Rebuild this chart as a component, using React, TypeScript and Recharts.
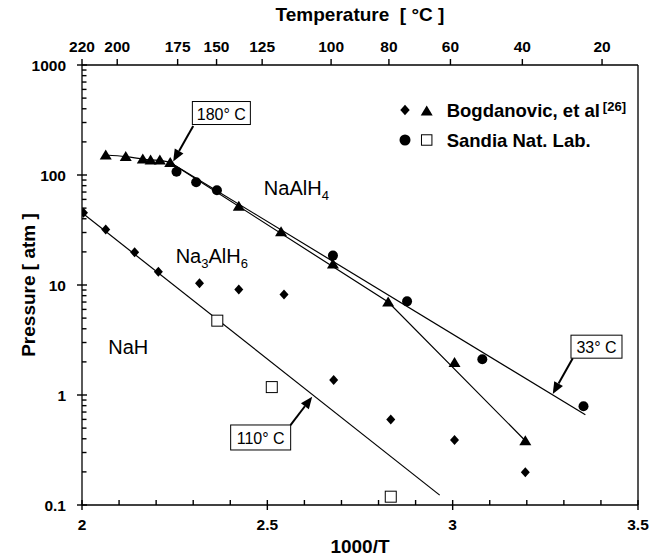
import React from "react";
import {
  ComposedChart,
  Line,
  Scatter,
  XAxis,
  YAxis,
  ReferenceLine,
  ReferenceDot,
  Legend,
  Label,
} from "recharts";

// ---------------------------------------------------------------------------
// Data (x = 1000/T, y = pressure in atm)
// ---------------------------------------------------------------------------

// Bogdanovic et al. – NaAlH4 (triangles)
const triX = [2.064, 2.118, 2.164, 2.185, 2.21, 2.238, 2.423, 2.537, 2.677, 2.826, 3.005, 3.196];
const triP = [152, 147, 140, 137, 137, 130, 52, 30.5, 15.5, 7.0, 1.97, 0.384];

// Bogdanovic et al. – Na3AlH6 (diamonds)
const diaX = [2.004, 2.064, 2.142, 2.206, 2.317, 2.423, 2.545, 2.679, 2.833, 3.005, 3.196];
const diaP = [45.4, 32, 19.8, 13.2, 10.4, 9.1, 8.2, 1.37, 0.6, 0.39, 0.198];

// Sandia – NaAlH4 (circles)
const cirX = [2.255, 2.308, 2.364, 2.677, 2.877, 3.08, 3.353];
const cirP = [107, 86, 72.6, 18.5, 7.1, 2.11, 0.79];

// Sandia – Na3AlH6 (squares)
const sqX = [2.365, 2.512, 2.833];
const sqP = [4.74, 1.18, 0.119];

// fit lines
const plateauX = [2.064, 2.118, 2.164, 2.185, 2.21, 2.238];
const plateauP = [152, 147, 140, 137, 136, 130];
const bogFitX = [2.238, 2.826, 3.196];
const bogFitP = [130, 7.0, 0.384];
const sandiaFitX = [2.238, 3.358];
const sandiaFitP = [130, 0.66];
const na3FitX = [2.0, 2.965];
const na3FitP = [45.4, 0.123];

// axes
const X_TICKS = [2, 2.1, 2.2, 2.3, 2.4, 2.5, 2.6, 2.7, 2.8, 2.9, 3, 3.1, 3.2, 3.3, 3.4, 3.5];
const TOP_TICK_POS = [2.0, 2.095, 2.258, 2.363, 2.486, 2.672, 2.828, 2.994, 3.188, 3.403];
const TOP_TICK_LABELS = ["220", "200", "175", "150", "125", "100", "80", "60", "40", "20"];
const Y_MAJOR = [0.1, 1, 10, 100, 1000];
const Y_MINOR_STEPS = [2, 3, 4, 5, 6, 7, 8, 9];

const X_MIN = 2;
const X_MAX = 3.5;
const Y_MIN = 0.1;
const Y_MAX = 1000;

const toPts = (xs: number[], ys: number[]) => xs.map((x, i) => ({ x, y: ys[i] }));

const Y_TICKS = [
  ...Y_MAJOR,
  ...Y_MAJOR.slice(0, -1).flatMap((d) => Y_MINOR_STEPS.map((k) => +(d * k).toPrecision(3))),
].sort((a, b) => a - b);

const isMajorX = (v: number) => Math.abs(v * 2 - Math.round(v * 2)) < 1e-6;
const isMajorY = (v: number) => Y_MAJOR.some((m) => Math.abs(m - v) < 1e-9);

const FONT = '"Liberation Sans", Arial, Helvetica, sans-serif';

// ---------------------------------------------------------------------------
// Markers
// ---------------------------------------------------------------------------

const diamond = (cx: number, cy: number, s = 1) => (
  <path
    d={`M${cx},${cy - 5 * s}L${cx + 4.5 * s},${cy}L${cx},${cy + 5 * s}L${cx - 4.5 * s},${cy}Z`}
    fill="#000"
  />
);
const triangle = (cx: number, cy: number, s = 1) => (
  <path
    d={`M${cx},${cy - 5.5 * s}L${cx + 6 * s},${cy + 4.5 * s}L${cx - 6 * s},${cy + 4.5 * s}Z`}
    fill="#000"
  />
);
const circle = (cx: number, cy: number, s = 1) => <circle cx={cx} cy={cy} r={5 * s} fill="#000" />;
const square = (cx: number, cy: number, s = 1) => (
  <rect x={cx - 5.5 * s} y={cy - 5.5 * s} width={11 * s} height={11 * s} fill="#fff" stroke="#000" strokeWidth={1} />
);

// tick marks: small filled bars sitting on the axis lines
const tickMark = (x0: number, y0: number, w: number, h: number) => (p: any) => (
  <rect x={p.cx + x0} y={p.cy + y0} width={w} height={h} fill="#000" />
);
const bottomMajor = tickMark(-0.7, -5, 1.4, 10);
const bottomMinor = tickMark(-0.7, -5, 1.4, 5);
const topMark = tickMark(-0.7, -6, 1.4, 6);
const leftMajor = tickMark(-5, -0.7, 10, 1.4);
const leftMinor = tickMark(0, -0.7, 4.5, 1.4);

// ---------------------------------------------------------------------------
// Tick labels
// ---------------------------------------------------------------------------

const tickText = { fontFamily: FONT, fontWeight: 700, fontSize: 15.5, fill: "#000" };

function BottomTick(props: any) {
  const { x, y, payload } = props;
  const v = Number(payload?.value);
  if (!isMajorX(v)) return <g />;
  return (
    <text x={x} y={y + 19} textAnchor="middle" dominantBaseline="central" {...tickText}>
      {String(v)}
    </text>
  );
}

function TopTick(props: any) {
  const { x, y, payload } = props;
  const v = Number(payload?.value);
  const i = TOP_TICK_POS.findIndex((p) => Math.abs(p - v) < 1e-6);
  return (
    <text x={x} y={y - 19} textAnchor="middle" dominantBaseline="central" {...tickText}>
      {i >= 0 ? TOP_TICK_LABELS[i] : ""}
    </text>
  );
}

function LeftTick(props: any) {
  const { x, y, payload } = props;
  const v = Number(payload?.value);
  if (!isMajorY(v)) return <g />;
  return (
    <text x={x - 16} y={y} textAnchor="end" dominantBaseline="central" {...tickText}>
      {String(v)}
    </text>
  );
}

const titleText = { fontFamily: FONT, fontWeight: 700, fontSize: 19, fill: "#000" };

function XTitle(props: any) {
  const vb = props.viewBox ?? { x: 82, y: 505, width: 556, height: 50 };
  return (
    <text x={vb.x + vb.width / 2} y={vb.y + 41} textAnchor="middle" dominantBaseline="central" {...titleText}>
      1000/T
    </text>
  );
}

function TopTitle(props: any) {
  const vb = props.viewBox ?? { x: 82, y: 0, width: 556, height: 65 };
  return (
    <text x={vb.x + vb.width / 2} y={14} textAnchor="middle" dominantBaseline="central" {...titleText}>
      {"Temperature\u00a0\u00a0[ °C ]"}
    </text>
  );
}

function YTitle(props: any) {
  const vb = props.viewBox ?? { x: 0, y: 65, width: 82, height: 440 };
  const cx = 28;
  const cy = vb.y + vb.height / 2;
  return (
    <text
      x={cx}
      y={cy}
      transform={`rotate(-90 ${cx} ${cy})`}
      textAnchor="middle"
      dominantBaseline="central"
      {...titleText}
    >
      Pressure [ atm ]
    </text>
  );
}

// ---------------------------------------------------------------------------
// Annotations
// ---------------------------------------------------------------------------

const callouts = [
  { text: "180° C", box: { x: 2.376, y: 366 }, w: 58, h: 23, from: { x: 2.3, y: 279 }, to: { x: 2.246, y: 133 } },
  { text: "33° C", box: { x: 3.388, y: 2.75 }, w: 51, h: 23, from: { x: 3.324, y: 2.16 }, to: { x: 3.27, y: 1.02 } },
  { text: "110° C", box: { x: 2.482, y: 0.411 }, w: 60, h: 25, from: { x: 2.5625, y: 0.533 }, to: { x: 2.621, y: 0.965 } },
];

const arrowShape = (p: any) => {
  const { x1, y1, x2, y2 } = p;
  const ang = Math.atan2(y2 - y1, x2 - x1);
  const L = 12;
  const W = 5;
  const bx = x2 - L * Math.cos(ang);
  const by = y2 - L * Math.sin(ang);
  const lx = bx + W * Math.sin(ang);
  const ly = by - W * Math.cos(ang);
  const rx = bx - W * Math.sin(ang);
  const ry = by + W * Math.cos(ang);
  return (
    <g>
      <line x1={x1} y1={y1} x2={bx} y2={by} stroke="#000" strokeWidth={2} />
      <path d={`M${x2},${y2}L${lx},${ly}L${rx},${ry}Z`} fill="#000" />
    </g>
  );
};

const boxShape = (text: string, w: number, h: number) => (p: any) => (
  <g>
    <rect x={p.cx - w / 2} y={p.cy - h / 2} width={w} height={h} fill="#fff" stroke="#000" strokeWidth={1} />
    <text
      x={p.cx}
      y={p.cy + 1}
      textAnchor="middle"
      dominantBaseline="central"
      fontFamily={FONT}
      fontSize={16}
      fill="#000"
    >
      {text}
    </text>
  </g>
);

const phaseText = { fontFamily: FONT, fontSize: 20, fill: "#000" };
const sub = 13;

const naAlH4Shape = (p: any) => (
  <text x={p.cx} y={p.cy} {...phaseText}>
    NaAlH
    <tspan fontSize={sub} dy={5}>4</tspan>
  </text>
);
const na3AlH6Shape = (p: any) => (
  <text x={p.cx} y={p.cy} {...phaseText}>
    Na
    <tspan fontSize={sub} dy={5}>3</tspan>
    <tspan dy={-5}>AlH</tspan>
    <tspan fontSize={sub} dy={5}>6</tspan>
  </text>
);
const naHShape = (p: any) => (
  <text x={p.cx} y={p.cy} {...phaseText}>
    NaH
  </text>
);

// ---------------------------------------------------------------------------
// Legend
// ---------------------------------------------------------------------------

const legendText = { fontFamily: FONT, fontWeight: 700, fontSize: 18.5, fill: "#000" };

function LegendBox() {
  return (
    <svg width={245} height={62} style={{ display: "block", overflow: "visible" }}>
      {diamond(10, 18, 1.05)}
      {triangle(31.7, 19, 1.0)}
      <text x={51.7} y={18} dominantBaseline="central" {...legendText}>
        Bogdanovic, et al
        <tspan fontSize={13} dx={3} dy={-4}>[26]</tspan>
      </text>
      {circle(10, 48, 1.1)}
      {square(31.7, 48, 0.95)}
      <text x={51.7} y={48} dominantBaseline="central" {...legendText}>
        Sandia Nat. Lab.
      </text>
    </svg>
  );
}

// ---------------------------------------------------------------------------
// Chart
// ---------------------------------------------------------------------------

const AX = { xAxisId: "b", yAxisId: "l" } as const;

export default function App() {
  return (
    <div style={{ position: "absolute", left: 0, top: 0, background: "#fff" }}>
      <ComposedChart width={654} height={555} margin={{ top: 0, right: 16, bottom: 0, left: 0 }}>
        <XAxis
          xAxisId="b"
          dataKey="x"
          type="number"
          domain={[X_MIN, X_MAX]}
          ticks={X_TICKS}
          interval={0}
          height={50}
          tickSize={0}
          tickMargin={0}
          tickLine={false}
          tick={BottomTick}
          axisLine={{ stroke: "#000", strokeWidth: 1.3 }}
          allowDataOverflow
        >
          <Label content={XTitle} />
        </XAxis>
        <XAxis
          xAxisId="t"
          dataKey="x"
          orientation="top"
          type="number"
          domain={[X_MIN, X_MAX]}
          ticks={TOP_TICK_POS}
          interval={0}
          height={65}
          tickSize={0}
          tickMargin={0}
          tickLine={false}
          tick={TopTick}
          axisLine={{ stroke: "#000", strokeWidth: 1.3 }}
          allowDataOverflow
        >
          <Label content={TopTitle} />
        </XAxis>
        <YAxis
          yAxisId="l"
          dataKey="y"
          type="number"
          scale="log"
          domain={[Y_MIN, Y_MAX]}
          ticks={Y_TICKS}
          interval={0}
          width={82}
          tickSize={0}
          tickMargin={0}
          tickLine={false}
          tick={LeftTick}
          axisLine={{ stroke: "#000", strokeWidth: 1.3 }}
          allowDataOverflow
        >
          <Label content={YTitle} />
        </YAxis>

        <ReferenceLine {...AX} x={X_MAX} stroke="#555" strokeWidth={2} ifOverflow="visible" />

        {X_TICKS.map((v) => (
          <ReferenceDot key={"bt" + v} {...AX} x={v} y={Y_MIN} r={1} shape={isMajorX(v) ? bottomMajor : bottomMinor} ifOverflow="visible" />
        ))}
        {TOP_TICK_POS.map((v) => (
          <ReferenceDot key={"tt" + v} {...AX} x={v} y={Y_MAX} r={1} shape={topMark} ifOverflow="visible" />
        ))}
        {Y_TICKS.map((v) => (
          <ReferenceDot key={"lt" + v} {...AX} x={X_MIN} y={v} r={1} shape={isMajorY(v) ? leftMajor : leftMinor} ifOverflow="visible" />
        ))}

        <Line {...AX} data={toPts(plateauX, plateauP)} dataKey="y" type="monotone" stroke="#000" strokeWidth={1.2} dot={false} isAnimationActive={false} />
        <Line {...AX} data={toPts(bogFitX, bogFitP)} dataKey="y" type="linear" stroke="#000" strokeWidth={1.2} dot={false} isAnimationActive={false} />
        {/* the Sandia fit is drawn against the top (same 1000/T range) axis so that axis carries data */}
        <Line xAxisId="t" yAxisId="l" data={toPts(sandiaFitX, sandiaFitP)} dataKey="y" type="linear" stroke="#000" strokeWidth={1.2} dot={false} isAnimationActive={false} />
        <Line {...AX} data={toPts(na3FitX, na3FitP)} dataKey="y" type="linear" stroke="#000" strokeWidth={1.2} dot={false} isAnimationActive={false} />

        <Scatter {...AX} data={toPts(diaX, diaP)} dataKey="y" shape={(p: any) => diamond(p.cx, p.cy)} isAnimationActive={false} />
        <Scatter {...AX} data={toPts(triX, triP)} dataKey="y" shape={(p: any) => triangle(p.cx, p.cy)} isAnimationActive={false} />
        <Scatter {...AX} data={toPts(cirX, cirP)} dataKey="y" shape={(p: any) => circle(p.cx, p.cy)} isAnimationActive={false} />
        <Scatter {...AX} data={toPts(sqX, sqP)} dataKey="y" shape={(p: any) => square(p.cx, p.cy)} isAnimationActive={false} />

        <ReferenceDot {...AX} x={2.4906} y={65.8} shape={naAlH4Shape} ifOverflow="visible" />
        <ReferenceDot {...AX} x={2.2526} y={15.7} shape={na3AlH6Shape} ifOverflow="visible" />
        <ReferenceDot {...AX} x={2.0709} y={2.34} shape={naHShape} ifOverflow="visible" />

        {callouts.map((c) => (
          <ReferenceLine key={c.text + "a"} {...AX} segment={[c.from, c.to]} shape={arrowShape} ifOverflow="visible" />
        ))}
        {callouts.map((c) => (
          <ReferenceDot key={c.text + "b"} {...AX} x={c.box.x} y={c.box.y} shape={boxShape(c.text, c.w, c.h)} ifOverflow="visible" />
        ))}

        <Legend
          layout="vertical"
          align="center"
          verticalAlign="middle"
          width={245}
          height={62}
          wrapperStyle={{ top: 92, left: 395, width: 245, height: 62 }}
          content={LegendBox}
        />
      </ComposedChart>
    </div>
  );
}
